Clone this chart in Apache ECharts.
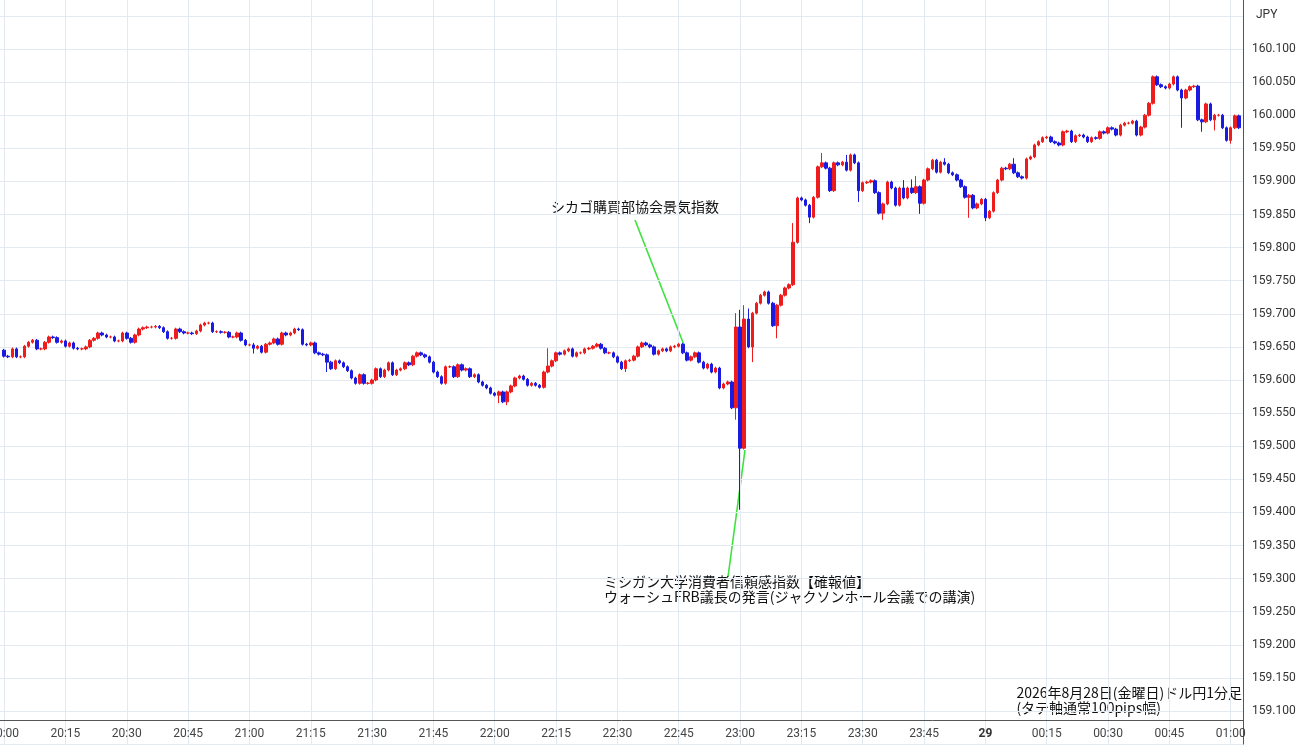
<!DOCTYPE html>
<html><head><meta charset="utf-8">
<script src="https://cdn.jsdelivr.net/npm/echarts@6/dist/echarts.min.js"></script>
<style>html,body{margin:0;padding:0;background:#fff}#c{width:1300px;height:745px}</style>
</head><body><div id="c"></div>
<script>
// closes for each minute from 20:00 (index 0) to 01:02
const closes = [
159.636,159.635,159.647,159.635,159.635,159.651,159.657,159.660,159.647,159.647,
159.657,159.665,159.664,159.657,159.659,159.651,159.656,159.648,159.647,159.647,
159.650,159.660,159.663,159.671,159.668,159.665,159.665,159.659,159.659,159.671,
159.663,159.657,159.668,159.677,159.679,159.680,159.680,159.681,159.679,159.673,
159.663,159.663,159.677,159.673,159.671,159.671,159.670,159.674,159.683,159.686,
159.686,159.673,159.673,159.672,159.672,159.665,159.665,159.671,159.660,159.653,
159.653,159.648,159.651,159.642,159.654,159.656,159.662,159.654,159.671,159.668,
159.671,159.677,159.676,159.654,159.653,159.656,159.641,159.639,159.638,159.627,
159.617,159.629,159.626,159.620,159.614,159.603,159.595,159.608,159.595,159.595,
159.600,159.617,159.605,159.615,159.626,159.608,159.615,159.617,159.626,159.623,
159.636,159.641,159.638,159.635,159.627,159.612,159.605,159.595,159.620,159.620,
159.605,159.623,159.615,159.617,159.605,159.608,159.597,159.592,159.588,159.580,
159.577,159.582,
159.567,159.582,159.591,159.603,159.606,159.601,159.592,159.595,159.592,159.589,
159.612,159.621,159.629,159.641,159.639,159.644,159.647,159.636,159.641,159.641,
159.647,159.648,159.651,159.654,159.648,159.641,159.641,159.635,159.627,159.617,
159.629,159.630,159.636,159.650,159.656,159.653,159.650,159.639,159.644,159.647,
159.644,159.650,159.651,159.654,159.641,159.630,159.635,159.641,159.627,159.618,
159.624,159.612,159.618,159.588,159.594,159.597,
159.558,159.680,159.497,159.692,159.650,159.701,159.716,159.728,159.733,159.716,
159.682,159.713,159.728,159.739,159.744,159.808,159.875,159.872,159.864,159.846,
159.876,159.922,159.928,159.920,159.886,159.928,159.925,159.929,159.917,159.940,
159.928,159.886,159.898,159.899,159.901,159.883,159.852,159.866,159.899,159.890,
159.864,159.890,159.875,159.890,159.883,159.892,159.867,159.902,159.919,159.932,
159.914,159.929,159.926,159.913,159.910,159.902,159.892,159.876,159.879,159.860,
159.866,159.873,159.845,159.855,159.883,159.902,159.920,159.919,159.926,159.913,
159.907,159.905,
159.934,159.937,159.955,159.960,159.966,159.967,159.960,159.958,159.955,159.975,
159.976,159.960,159.969,159.970,159.967,159.960,159.966,159.965,159.975,159.973,
159.981,159.979,159.970,159.985,159.988,159.988,159.991,159.970,159.982,160.000,
160.018,160.058,160.046,160.043,160.041,160.047,160.058,160.038,160.026,160.038,
160.043,160.044,159.993,159.990,160.017,159.993,160.000,160.000,159.981,159.962,
159.981,159.999,159.981
];
const firstOpen = 159.645;
// notable wick extremes (minute index -> price)
const wickHigh = {179:159.701,180:159.706,181:159.713,182:159.708,193:159.837,200:159.943,206:159.940,
  220:159.902,222:159.903,223:159.908,230:159.935,247:159.935,281:160.060,286:160.060,61:159.656,133:159.648};
const wickLow = {61:159.640,79:159.612,121:159.565,123:159.562,179:159.540,180:159.404,183:159.627,189:159.663,
  197:159.837,209:159.869,215:159.842,224:159.851,236:159.845,240:159.840,288:159.981,293:159.975,296:159.977,300:159.957,152:159.612};
const annot1 = 'シカゴ購買部協会景気指数';
const annot2 = ['ミシガン大学消費者信頼感指数【確報値】','ウォーシュFRB議長の発言(ジャクソンホール会議での講演)'];
const note = ['2026年8月28日(金曜日)ドル円1分足','(タテ軸通常100pips幅)'];

// categories 19:59 .. 01:03
const cats = [];
for (let i = -1; i <= 303; i++) {
  const t = (20*60 + i) % 1440;
  cats.push(String(Math.floor(t/60)).padStart(2,'0') + ':' + String(t%60).padStart(2,'0'));
}
const data = ['-'];
let prev = firstOpen;
closes.forEach((c, i) => {
  const o = prev;
  const hi = wickHigh[i] !== undefined ? wickHigh[i] : Math.max(o, c) + 0.002;
  const lo = wickLow[i] !== undefined ? wickLow[i] : Math.min(o, c) - 0.002;
  data.push([o, c, lo, hi]);
  prev = c;
});
data.push('-');

const isQ = (idx) => { const m = parseInt(cats[idx].slice(3)); return m % 15 === 0; };
const chart = echarts.init(document.getElementById('c'));
const jp = '"Noto Sans CJK JP", sans-serif';
chart.setOption({
  animation: false,
  grid: {left: 0, right: 57, top: -17.2, bottom: 0.9, outerBoundsMode: 'none', containLabel: false},
  xAxis: {
    type: 'category', data: cats, boundaryGap: false, offset: -24,
    axisLine: {lineStyle: {color: '#555'}},
    axisTick: {show: false},
    axisLabel: {interval: (i) => isQ(i), color: '#444', fontSize: 12, margin: 8,
      fontFamily: 'Roboto, sans-serif', hideOverlap: false,
      formatter: (v) => v === '00:00' ? '{b|29}' : v,
      rich: {b: {fontWeight: 'bold', fontSize: 12, color: '#333'}}},
    splitLine: {show: true, interval: (i) => isQ(i), lineStyle: {color: '#e3e9f0'}}
  },
  yAxis: {
    type: 'value', position: 'right', min: 159.05, max: 160.2, interval: 0.05,
    axisLine: {show: true, lineStyle: {color: '#555'}},
    axisTick: {show: false},
    axisLabel: {color: '#333', fontSize: 12, margin: 9, fontFamily: 'Roboto, sans-serif',
      formatter: (v) => (v < 159.09 || v > 160.12) ? '' : v.toFixed(3)},
    splitLine: {lineStyle: {color: '#e3e9f0'}}
  },
  series: [{
    type: 'candlestick', data: data, barWidth: 3,
    itemStyle: {color: '#ee1c1c', color0: '#1a1ae0', borderColor: '#ee1c1c', borderColor0: '#1a1ae0', borderWidth: 1}
  }],
  graphic: [
    {type: 'rect', shape: {x: 1244, y: 0, width: 56, height: 32}, style: {fill: '#fff'}},
    {type: 'text', left: 1256, top: 9, style: {text: 'JPY', fill: '#333', font: '12px Roboto, sans-serif'}},
    {type: 'line', shape: {x1: 635, y1: 220, x2: 684, y2: 345}, style: {stroke: '#3de23d', lineWidth: 1.6}},
    {type: 'line', shape: {x1: 728, y1: 577, x2: 745, y2: 450}, style: {stroke: '#3de23d', lineWidth: 1.6}},
    {type: 'text', left: 551, top: 200, style: {text: annot1, fill: '#111', font: '14px ' + jp}},
    {type: 'text', left: 604, top: 574, style: {text: annot2.join('\n'), fill: '#111', font: '14px ' + jp, lineHeight: 15}},
    {type: 'text', right: 58, top: 685, style: {text: note.join('\n'), fill: '#111', font: '14px ' + jp, lineHeight: 15, align: 'right'}}
  ]
});
</script></body></html>
